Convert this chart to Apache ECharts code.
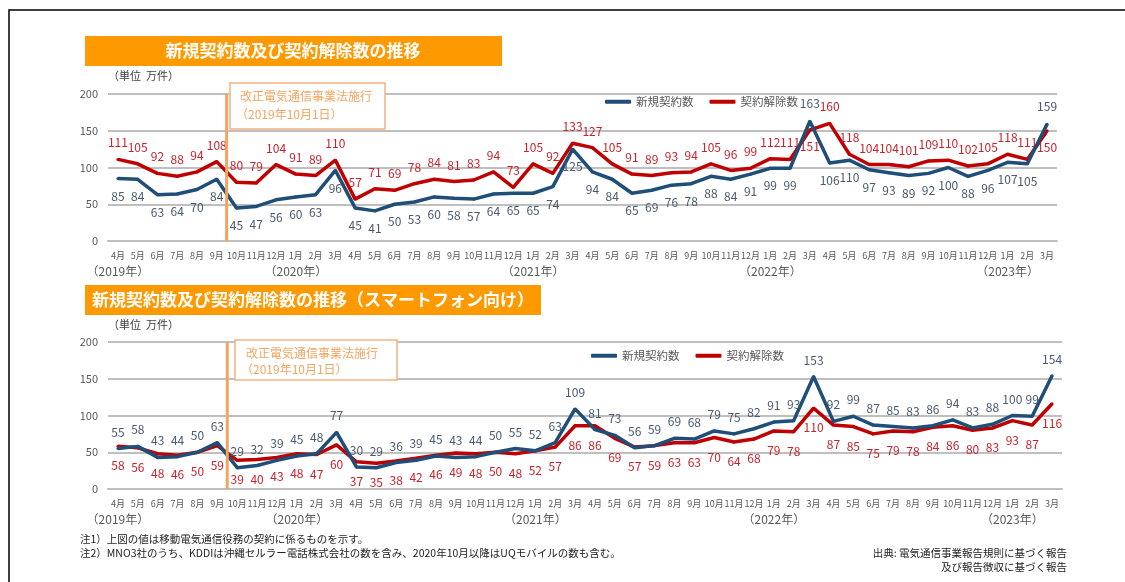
<!DOCTYPE html>
<html>
<head>
<meta charset="utf-8">
<script src="https://cdn.jsdelivr.net/npm/echarts@6/dist/echarts.min.js"></script>
<style>
  html, body { margin: 0; padding: 0; background: #fff; }
  #chart { width: 1125px; height: 582px; }
</style>
</head>
<body>
<div id="chart"></div>
<script>
// 月 (2019年4月〜2023年3月)
const months = [
  '4月','5月','6月','7月','8月','9月','10月','11月','12月',
  '1月','2月','3月','4月','5月','6月','7月','8月','9月','10月','11月','12月',
  '1月','2月','3月','4月','5月','6月','7月','8月','9月','10月','11月','12月',
  '1月','2月','3月','4月','5月','6月','7月','8月','9月','10月','11月','12月',
  '1月','2月','3月'
];
// 年ラベル (月の下に表示)
const yearTicks = { 0: '（2019年）', 9: '（2020年）', 21: '（2021年）', 33: '（2022年）', 45: '（2023年）' };

// 全体
const newAll = [
  85, 84, 63, 64, 70, 84, 45, 47, 56,
  60, 63, 96, 45, 41, 50, 53, 60, 58, 57, 64, 65,
  65, 74, 125, 94, 84, 65, 69, 76, 78, 88, 84, 91,
  99, 99, 163, 106, 110, 97, 93, 89, 92, 100, 88, 96,
  107, 105, 159
];
const cancelAll = [
  111, 105, 92, 88, 94, 108, 80, 79, 104,
  91, 89, 110, 57, 71, 69, 78, 84, 81, 83, 94, 73,
  105, 92, 133, 127, 105, 91, 89, 93, 94, 105, 96, 99,
  112, 111, 151, 160, 118, 104, 104, 101, 109, 110, 102, 105,
  118, 111, 150
];
// スマートフォン向け
const newSmart = [
  55, 58, 43, 44, 50, 63, 29, 32, 39,
  45, 48, 77, 30, 29, 36, 39, 45, 43, 44, 50, 55,
  52, 63, 109, 81, 73, 56, 59, 69, 68, 79, 75, 82,
  91, 93, 153, 92, 99, 87, 85, 83, 86, 94, 83, 88,
  100, 99, 154
];
const cancelSmart = [
  58, 56, 48, 46, 50, 59, 39, 40, 43,
  48, 47, 60, 37, 35, 38, 42, 46, 49, 48, 50, 48,
  52, 57, 86, 86, 69, 57, 59, 63, 63, 70, 64, 68,
  79, 78, 110, 87, 85, 75, 79, 78, 84, 86, 80, 83,
  93, 87, 116
];

const BLUE = '#1F4E79';
const RED = '#C00000';
const BLUE_LBL = '#4A5A70';
const RED_LBL = '#C8232C';
const FONT = '"Noto Sans CJK JP", "Noto Sans", sans-serif';

// ラベル位置の例外
function withLabels(values, overrides) {
  return values.map((v, i) => overrides[i] ? { value: v, label: overrides[i] } : v);
}

const chart = echarts.init(document.getElementById('chart'));

const xAxisBase = {
  type: 'category',
  data: months,
  axisLine: { lineStyle: { color: '#BFBFBF', width: 2 } },
  axisTick: { show: false },
  axisLabel: {
    interval: 0,
    margin: 8,
    formatter: (val, idx) => yearTicks[idx] ? '{m|' + val + '}\n{y|' + yearTicks[idx] + '}' : '{m|' + val + '}',
    rich: {
      m: { fontSize: 9, color: '#595959', lineHeight: 14, fontFamily: FONT },
      y: { fontSize: 12, color: '#595959', lineHeight: 16, fontFamily: FONT }
    }
  }
};
const yAxisBase = {
  type: 'value', min: 0, max: 200, interval: 50,
  axisLine: { show: false },
  axisTick: { show: false },
  axisLabel: { color: '#595959', fontSize: 11, fontFamily: FONT, margin: 10 },
  splitLine: { lineStyle: { color: '#BFBFBF', width: 2 } }
};

function lineSeries(name, data, color, xi, pos, lblColor, dist) {
  return {
    name, type: 'line', xAxisIndex: xi, yAxisIndex: xi,
    data, symbol: 'circle', symbolSize: 3, showSymbol: true, showAllSymbol: true, smooth: false,
    lineStyle: { color, width: 3.5 },
    itemStyle: { color },
    label: { show: true, position: pos, color: lblColor, fontSize: 12, fontFamily: FONT, distance: dist },
    labelLayout: { hideOverlap: false },
    z: name === '新規契約数' ? 3 : 2
  };
}

const legendBase = {
  itemWidth: 26, itemHeight: 4, itemGap: 16, icon: 'roundRect',
  textStyle: { color: '#595959', fontSize: 11.5, fontFamily: FONT },
  data: [
    { name: '新規契約数', itemStyle: { color: BLUE } },
    { name: '契約解除数', itemStyle: { color: RED } }
  ]
};

const option = {
  animation: false,
  textStyle: { fontFamily: FONT },
  grid: [
    { left: 108, right: 68, top: 94, height: 147 },
    { left: 108, right: 63, top: 342, height: 147 }
  ],
  xAxis: [Object.assign({ gridIndex: 0 }, xAxisBase), Object.assign({ gridIndex: 1 }, xAxisBase)],
  yAxis: [Object.assign({ gridIndex: 0 }, yAxisBase), Object.assign({ gridIndex: 1 }, yAxisBase)],
  legend: [
    Object.assign({ left: 600, top: 91 }, legendBase),
    Object.assign({ left: 586, top: 345 }, legendBase)
  ],
  series: [
    lineSeries('新規契約数', withLabels(newAll, {
      35: { position: 'top' }, 47: { position: 'top' }
    }), BLUE, 0, 'bottom', BLUE_LBL, 10),
    lineSeries('契約解除数', withLabels(cancelAll, {
      35: { position: 'bottom', offset: [4, -3] }, 47: { position: 'bottom', offset: [12, -5] }
    }), RED, 0, 'top', RED_LBL, 9),
    lineSeries('新規契約数', newSmart, BLUE, 1, 'top', BLUE_LBL, 9),
    lineSeries('契約解除数', cancelSmart, RED, 1, 'bottom', RED_LBL, 12)
  ],
  graphic: [
    { type: 'rect', shape: { x: 9, y: 10, width: 1300, height: 700 }, style: { fill: 'none', stroke: '#000', lineWidth: 1.5 }, silent: true },
    { type: 'rect', shape: { x: 85, y: 36, width: 417, height: 30 }, style: { fill: '#FF9900' } },
    { type: 'text', x: 293, y: 51, style: { text: '新規契約数及び契約解除数の推移', fill: '#fff', font: 'bold 17px ' + FONT, align: 'center', verticalAlign: 'middle' } },
    { type: 'rect', shape: { x: 85, y: 285, width: 456, height: 30 }, style: { fill: '#FF9900' } },
    { type: 'text', x: 313, y: 300, style: { text: '新規契約数及び契約解除数の推移（スマートフォン向け）', fill: '#fff', font: 'bold 17px ' + FONT, align: 'center', verticalAlign: 'middle' } },
    { type: 'text', x: 108, y: 76, style: { text: '（単位  万件）', fill: '#404040', font: '11px ' + FONT, verticalAlign: 'middle' } },
    { type: 'text', x: 108, y: 325, style: { text: '（単位  万件）', fill: '#404040', font: '11px ' + FONT, verticalAlign: 'middle' } },
    // 注記ボックス
    { type: 'rect', shape: { x: 230, y: 83, width: 155, height: 46 }, style: { fill: '#fff', stroke: '#F4B183', lineWidth: 1.5 }, z: 10 },
    { type: 'text', x: 240, y: 96, style: { text: '改正電気通信事業法施行', fill: '#F4A460', font: '12px ' + FONT, verticalAlign: 'middle' }, z: 11 },
    { type: 'text', x: 236, y: 114, style: { text: '（2019年10月1日）', fill: '#F4A460', font: '12px ' + FONT, verticalAlign: 'middle' }, z: 11 },
    { type: 'rect', shape: { x: 235, y: 340, width: 162, height: 40 }, style: { fill: '#fff', stroke: '#F4B183', lineWidth: 1.5 }, z: 10 },
    { type: 'text', x: 246, y: 353, style: { text: '改正電気通信事業法施行', fill: '#F4A460', font: '12px ' + FONT, verticalAlign: 'middle' }, z: 11 },
    { type: 'text', x: 241, y: 369, style: { text: '（2019年10月1日）', fill: '#F4A460', font: '12px ' + FONT, verticalAlign: 'middle' }, z: 11 },
    // 注・出典
    { type: 'text', x: 80, y: 539, style: { text: '注1）上図の値は移動電気通信役務の契約に係るものを示す。', fill: '#222', font: '10.5px ' + FONT, verticalAlign: 'middle' } },
    { type: 'text', x: 80, y: 553, style: { text: '注2）MNO3社のうち、KDDIは沖縄セルラー電話株式会社の数を含み、2020年10月以降はUQモバイルの数も含む。', fill: '#222', font: '10.5px ' + FONT, verticalAlign: 'middle' } },
    { type: 'text', x: 1067, y: 553, style: { text: '出典: 電気通信事業報告規則に基づく報告', fill: '#222', font: '10.5px ' + FONT, align: 'right', verticalAlign: 'middle' } },
    { type: 'text', x: 1067, y: 567, style: { text: '及び報告徴収に基づく報告', fill: '#222', font: '10.5px ' + FONT, align: 'right', verticalAlign: 'middle' } }
  ]
};

chart.setOption(option);

// 法施行ライン (9月と10月の間)
const extra = [];
[0, 1].forEach(i => {
  const x = (chart.convertToPixel({ xAxisIndex: i }, 5) + chart.convertToPixel({ xAxisIndex: i }, 6)) / 2;
  const y0 = chart.convertToPixel({ yAxisIndex: i }, 0);
  const y1 = chart.convertToPixel({ yAxisIndex: i }, 200);
  extra.push({ type: 'line', shape: { x1: x, y1: y1, x2: x, y2: y0 }, style: { stroke: '#F4A460', lineWidth: 3 }, z: 5 });
});
chart.setOption({ graphic: option.graphic.concat(extra) });
</script>
</body>
</html>
